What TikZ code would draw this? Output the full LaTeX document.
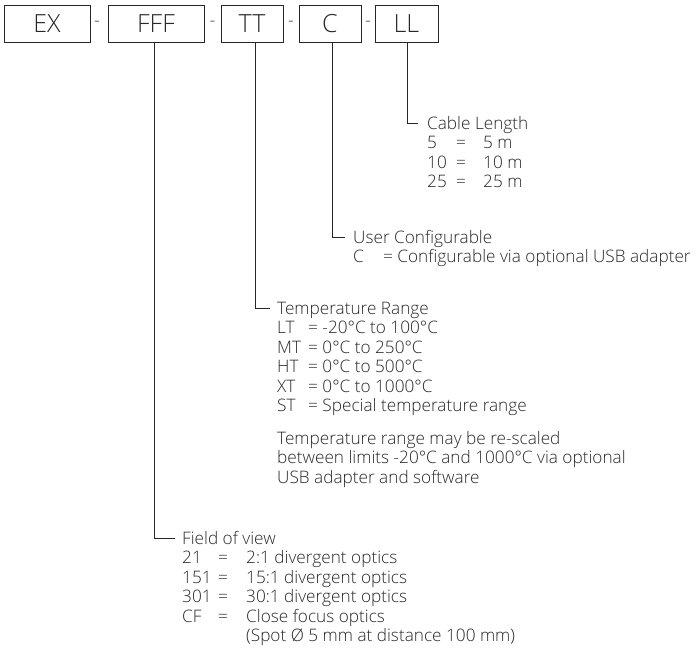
\documentclass[tikz,border=0pt]{standalone}
\usepackage{fontspec}
\IfFontExistsTF{Open Sans Light}{\setmainfont{Open Sans Light}}{\setmainfont{Open Sans}}
\definecolor{txt}{RGB}{40,40,40}
\begin{document}
\begin{tikzpicture}[x=1pt,y=-1pt,
  code/.style={draw=black!85, line width=0.9pt, minimum height=37pt, inner sep=0pt, font=\fontsize{25}{25}\selectfont, text=txt},
  sepdash/.style={inner sep=0pt, font=\fontsize{18}{18}\selectfont, text=txt},
  lab/.style={anchor=base west, inner sep=0pt, font=\fontsize{17.2}{19.5}\selectfont, text=txt},
  conn/.style={draw=black!85, line width=0.9pt}]
\useasboundingbox (0,0) rectangle (697,659);
% code boxes
\node[code, minimum width=86pt] (ex)  at (47,23.5)  {EX};
\node[code, minimum width=96pt] (fff) at (156,23.5) {FFF};
\node[code, minimum width=62pt] (tt)  at (252,23.5) {TT};
\node[code, minimum width=62pt] (c)   at (330,23.5) {C};
\node[code, minimum width=63pt] (ll)  at (406.5,23.5) {LL};
\node[sepdash] (d1) at (97,23.5) {-};
\node[sepdash] (d2) at (212.5,23.5) {-};
\node[sepdash] (d3) at (291,23.5) {-};
\node[sepdash] (d4) at (368,23.5) {-};
% connector ends
\coordinate (llend)  at (418,123);
\coordinate (cend)   at (345,237);
\coordinate (ttend)  at (270,308);
\coordinate (fffend) at (175,538);
\draw[conn] (ll.south -| 407,0) |- (llend);
\draw[conn] (c.south -| 332,0) |- (cend);
\draw[conn] (tt.south -| 255,0) |- (ttend);
\draw[conn] (fff.south -| 154,0) |- (fffend);
% Cable length
\node[lab] (cl0) at (427,129) {Cable Length};
\node[lab] (cl1a) at (427,148.5) {5};
\node[lab] (cl1b) at (456,148.5) {=};
\node[lab] (cl1c) at (483,148.5) {5 m};
\node[lab] (cl2a) at (427,168) {10};
\node[lab] (cl2b) at (456,168) {=};
\node[lab] (cl2c) at (483,168) {10 m};
\node[lab] (cl3a) at (427,187.5) {25};
\node[lab] (cl3b) at (456,187.5) {=};
\node[lab] (cl3c) at (483,187.5) {25 m};
% User configurable
\node[lab] (uc0) at (353,243) {User Configurable};
\node[lab] (uc1a) at (353,262.5) {C};
\node[lab] (uc1b) at (383,262.5) {= Configurable via optional USB adapter};
% Temperature range
\node[lab] (tr0) at (277,314) {Temperature Range};
\node[lab] (tr1a) at (277,333.5) {LT};
\node[lab] (tr1b) at (308,333.5) {= -20°C to 100°C};
\node[lab] (tr2a) at (277,353) {MT};
\node[lab] (tr2b) at (308,353) {= 0°C to 250°C};
\node[lab] (tr3a) at (277,372.5) {HT};
\node[lab] (tr3b) at (308,372.5) {= 0°C to 500°C};
\node[lab] (tr4a) at (277,392) {XT};
\node[lab] (tr4b) at (308,392) {= 0°C to 1000°C};
\node[lab] (tr5a) at (277,411.5) {ST};
\node[lab] (tr5b) at (308,411.5) {= Special temperature range};
\node[lab] (trn1) at (277,444) {Temperature range may be re-scaled};
\node[lab] (trn2) at (277,463.5) {between limits -20°C and 1000°C via optional};
\node[lab] (trn3) at (277,483) {USB adapter and software};
% Field of view
\node[lab] (fv0) at (182,544) {Field of view};
\node[lab] (fv1a) at (182,563.5) {21};
\node[lab] (fv1b) at (218,563.5) {=};
\node[lab] (fv1c) at (246,563.5) {2:1 divergent optics};
\node[lab] (fv2a) at (182,583) {151};
\node[lab] (fv2b) at (218,583) {=};
\node[lab] (fv2c) at (246,583) {15:1 divergent optics};
\node[lab] (fv3a) at (182,602.5) {301};
\node[lab] (fv3b) at (218,602.5) {=};
\node[lab] (fv3c) at (246,602.5) {30:1 divergent optics};
\node[lab] (fv4a) at (182,622) {CF};
\node[lab] (fv4b) at (218,622) {=};
\node[lab] (fv4c) at (246,622) {Close focus optics};
\node[lab] (fv5c) at (246,641.5) {(Spot Ø 5 mm at distance 100 mm)};
\end{tikzpicture}
\end{document}
